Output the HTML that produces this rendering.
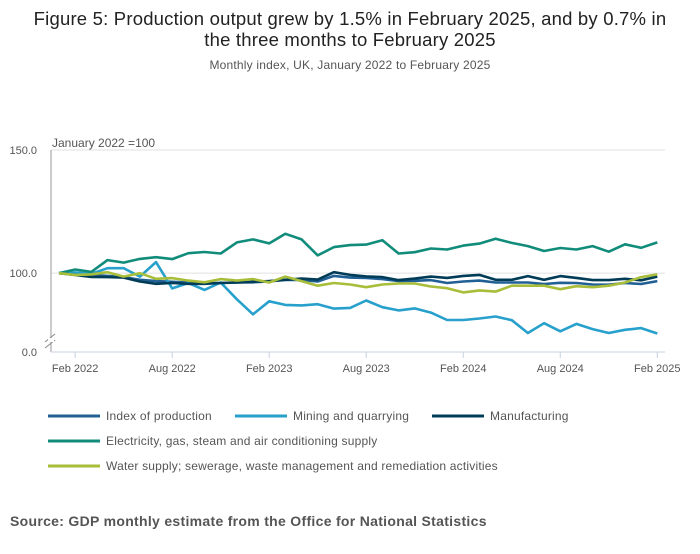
<!DOCTYPE html>
<html><head><meta charset="utf-8"><style>
body{margin:0;background:#fff;width:700px;height:549px;overflow:hidden;font-family:"Liberation Sans",sans-serif;}
svg text{font-family:"Liberation Sans",sans-serif;}
</style></head><body>
<svg id="chart" width="700" height="549" xmlns="http://www.w3.org/2000/svg">
<text x="350" y="25" text-anchor="middle" font-size="18.5" letter-spacing="0.2" fill="#222">Figure 5: Production output grew by 1.5% in February 2025, and by 0.7% in</text>
<text x="350" y="46" text-anchor="middle" font-size="18.5" letter-spacing="0.2" fill="#222">the three months to February 2025</text>
<text x="350" y="69" text-anchor="middle" font-size="12" letter-spacing="0.2" fill="#555">Monthly index, UK, January 2022 to February 2025</text>
<text x="52" y="147" font-size="12" fill="#555">January 2022 =100</text>
<g id="grid"></g><g id="axes"></g><g id="series"></g><g id="legend"></g>
<text x="10" y="526" font-size="14" letter-spacing="0.3" font-weight="bold" fill="#555">Source: GDP monthly estimate from the Office for National Statistics</text>
</svg>
<script>
const months = 38;
const yTicks = [150, 100];
const yTickLabels = ["150.0", "100.0"];
const xTickIdx = [1, 7, 13, 19, 25, 31, 37];
const xTickLabels = ["Feb 2022","Aug 2022","Feb 2023","Aug 2023","Feb 2024","Aug 2024","Feb 2025"];
const seriesNames = ["Index of production","Mining and quarrying","Manufacturing","Electricity, gas, steam and air conditioning supply","Water supply; sewerage, waste management and remediation activities"];
const seriesColors = ["#206095","#27a0cc","#003c57","#118c7b","#a8bd3a"];
const iop = [100,99.6,99.3,98.9,98.4,97.3,96.8,96.5,96.2,96,96,96.2,96.3,96.6,97.3,97.2,96.6,98.9,98.2,98.1,97.6,96.8,96.9,97.2,96,96.6,97,96.2,96.2,96.2,95.6,96.1,96,95.4,95.3,96,95.6,96.8];
const mining = [100,100.3,99.7,102,102,98.6,104.5,93.8,96,93.2,96.2,89.4,83.3,88.6,87.1,86.9,87.4,85.6,85.9,88.9,86.2,84.9,85.7,84,81,81,81.6,82.4,80.9,75.7,79.7,76.4,79.4,77.3,75.7,77,77.7,75.5];
const manuf = [100,99.3,98.5,98.4,98.2,96.6,95.7,96,95.7,95.7,96,96.2,96.5,96.8,97.3,97.8,97.4,100.4,99.3,98.7,98.4,97.2,97.8,98.6,98.1,98.9,99.3,97.3,97.3,98.8,97.3,98.8,98.1,97.2,97.2,97.7,97.1,98.6];
const elec = [100,101.5,100.5,105.3,104.3,105.8,106.5,105.7,108.1,108.6,108,112.5,113.7,112.1,116,113.7,107.2,110.6,111.4,111.6,113.4,108,108.5,110,109.6,111.2,112,114,112.3,111,109,110.2,109.6,111,108.7,111.7,110.3,112.5];
const water = [100,99.3,99.5,100.4,98.6,100,97.7,98,97,96.3,97.6,97,97.6,96.2,98.6,96.8,94.9,96,95.4,94.3,95.4,95.8,95.8,94.6,93.9,92.2,93,92.5,94.9,94.9,94.9,93.5,94.7,94.3,94.9,96.2,98.4,99.5];
const allSeries = [iop, mining, manuf, elec, water];
const NS="http://www.w3.org/2000/svg";
const x0=59, dx=16.17, yTop=150, yBot=352, vTop=150, vBot=68;
function xs(i){return x0+dx*i;}
function ys(v){return yTop+(vTop-v)/(vTop-vBot)*(yBot-yTop);}
function mk(tag,attrs,parent){const e=document.createElementNS(NS,tag);for(const k in attrs)e.setAttribute(k,attrs[k]);parent.appendChild(e);return e;}
const grid=document.getElementById('grid'), axes=document.getElementById('axes'), ser=document.getElementById('series'), leg=document.getElementById('legend');
yTicks.forEach((t,i)=>{
  const l=mk('line',{x1:51,x2:665,y1:ys(t),y2:ys(t),stroke:'#e0e0e0','stroke-width':1},grid);
  
  
  const tx=mk('text',{x:37,y:ys(t)+4,'text-anchor':'end','font-size':11,fill:'#555'},axes);
  tx.textContent=yTickLabels[i];
  
  
});
const z=mk('text',{x:37,y:yBot+4,'text-anchor':'end','font-size':11,fill:'#555'},axes);z.textContent="0.0";


const ya=mk('line',{x1:51,x2:51,y1:yTop,y2:yBot,stroke:'#999','stroke-width':1},axes);


const br=mk('path',{d:'M45,342 L55,334 M45,348 L55,340',stroke:'#888','stroke-width':1,fill:'none'},axes);


const brw=mk('rect',{x:48,y:338,width:6,height:4,fill:'#fff'},axes);
const xa=mk('line',{x1:51,x2:665,y1:yBot,y2:yBot,stroke:'#c7d2e3','stroke-width':1},axes);


xTickIdx.forEach((m,i)=>{
  const t=mk('line',{x1:xs(m),x2:xs(m),y1:yBot,y2:yBot+6,stroke:'#c7d2e3'},axes);
  
  
  const tx=mk('text',{x:xs(m),y:yBot+20,'text-anchor':'middle','font-size':11,fill:'#555'},axes);
  tx.textContent=xTickLabels[i];
  
  
});
allSeries.forEach((arr,s)=>{
  const d=arr.map((v,i)=>(i?'L':'M')+xs(i).toFixed(1)+','+ys(v).toFixed(1)).join(' ');
  const p=mk('path',{d:d,fill:'none',stroke:seriesColors[s],'stroke-width':2.6,'stroke-linejoin':'round'},ser);
  
  
});
const legPos=[[48,416],[235,416],[432,416],[48,441],[48,466]];
seriesNames.forEach((n,s)=>{
  const [lx,ly]=legPos[s];
  const g=mk('g',{},leg);
  
  
  mk('line',{x1:lx,x2:lx+52,y1:ly,y2:ly,stroke:seriesColors[s],'stroke-width':3},g);
  const t=mk('text',{x:lx+58,y:ly+4,'font-size':12,'letter-spacing':0.2,fill:'#555'},g);
  t.textContent=n;
});
</script>
</body></html>
